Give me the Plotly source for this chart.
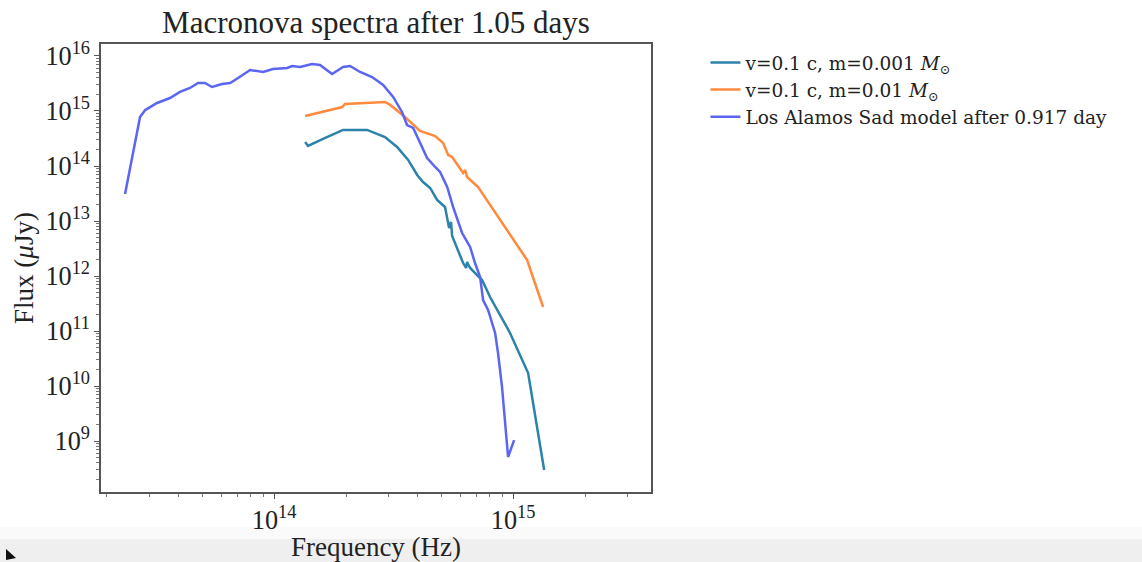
import plotly.graph_objects as go

# ---- data ----
freq_m001 = [1.349e14, 1.387e14, 1.603e14, 1.944e14, 2.45e14, 2.91e14, 3.27e14, 3.64e14,
             3.97e14, 4.20e14, 4.50e14, 4.81e14, 5.19e14, 5.40e14, 5.50e14, 5.56e14,
             6.18e14, 6.36e14, 6.42e14, 6.61e14, 7.07e14, 7.42e14, 8.01e14, 9.71e14,
             1.156e15, 1.349e15]
flux_m001 = [2.73e14, 2.31e14, 3.10e14, 4.52e14, 4.52e14, 3.37e14, 2.22e14, 1.29e14,
             6.86e13, 5.12e13, 3.98e13, 2.41e13, 1.80e13, 7.46e12, 9.59e12, 5.34e12,
             1.72e12, 1.40e12, 1.80e12, 1.40e12, 1.04e12, 8.45e11, 4.15e11, 9.20e10,
             1.72e10, 2.97e8]

freq_m01 = [1.349e14, 1.93e14, 1.98e14, 2.91e14, 3.06e14, 3.53e14, 4.08e14, 4.72e14,
            5.10e14, 5.35e14, 5.56e14, 6.18e14, 6.30e14, 6.42e14, 7.14e14, 1.145e15,
            1.335e15]
flux_m01 = [8.11e14, 1.18e15, 1.34e15, 1.46e15, 1.29e15, 7.78e14, 4.33e14, 3.51e14,
            2.62e14, 1.585e14, 1.46e14, 7.46e13, 8.45e13, 6.31e13, 4.15e13, 1.95e12,
            2.73e11]

freq_lanl = [2.38e13, 2.75e13, 2.89e13, 3.24e13, 3.67e13, 4.04e13, 4.45e13, 4.81e13,
             5.14e13, 5.50e13, 6.06e13, 6.55e13, 7.07e13, 7.94e13, 9.00e13, 9.90e13,
             1.134e14, 1.19e14, 1.285e14, 1.442e14, 1.557e14, 1.749e14, 1.944e14, 2.08e14,
             2.29e14, 2.57e14, 2.86e14, 3.15e14, 3.43e14, 3.60e14, 3.82e14, 4.08e14,
             4.37e14, 4.72e14, 4.95e14, 5.30e14, 5.61e14, 6.12e14, 6.61e14, 6.93e14,
             7.28e14, 7.49e14, 7.86e14, 8.41e14, 8.65e14, 8.99e14, 9.26e14, 9.53e14,
             1.01e15]
flux_lanl = [3.10e13, 7.78e14, 1.04e15, 1.40e15, 1.72e15, 2.22e15, 2.62e15, 3.23e15,
             3.23e15, 2.73e15, 3.10e15, 3.23e15, 3.98e15, 5.56e15, 5.12e15, 5.80e15,
             6.05e15, 6.58e15, 6.31e15, 7.16e15, 6.86e15, 4.71e15, 6.31e15, 6.58e15,
             5.12e15, 4.15e15, 2.97e15, 1.80e15, 9.59e14, 5.56e14, 4.91e14, 2.62e14,
             1.40e14, 9.59e13, 7.78e13, 4.15e13, 1.80e13, 6.05e12, 3.37e12, 1.72e12,
             9.59e11, 3.66e11, 2.41e11, 9.20e10, 3.98e10, 9.59e9, 1.80e9, 5.12e8,
             1.04e9]

series_names = [
    "v=0.1 c, m=0.001 <i>M</i><sub>⊙</sub>",
    "v=0.1 c, m=0.01 <i>M</i><sub>⊙</sub>",
    "Los Alamos Sad model after 0.917 day",
]
title_text = "Macronova spectra after 1.05 days"
x_title = "Frequency (Hz)"
y_title = "Flux (<i>μ</i>Jy)"

colors = ["#2b82ab", "#ff8a3d", "#5a66f2"]
FONT = "Liberation Serif, Times New Roman, serif"
WIDE = "DejaVu Serif, serif"

fig = go.Figure()
for xs, ys, nm, c in zip([freq_m001, freq_m01, freq_lanl],
                         [flux_m001, flux_m01, flux_lanl],
                         series_names, colors):
    fig.add_trace(go.Scatter(x=xs, y=ys, mode="lines", name=nm,
                             line=dict(color=c, width=2.5)))

axis_common = dict(
    type="log", showgrid=False, zeroline=False,
    showline=True, linecolor="#555", linewidth=1.5, mirror=True,
    ticks="outside", ticklen=5, tickwidth=1, tickcolor="#555",
    exponentformat="power", dtick=1,
    tickfont=dict(size=21, color="#222", family=FONT),
    minor=dict(ticks="outside", ticklen=3, tickwidth=1, tickcolor="#777", showgrid=False),
)

fig.update_xaxes(range=[13.276, 15.577], title=dict(text=x_title, standoff=4,
                 font=dict(size=27, color="#222", family=FONT)), **axis_common)
fig.update_yaxes(range=[8.073, 16.218], title=dict(text=y_title, standoff=4,
                 font=dict(size=27, color="#222", family=FONT)), **axis_common)

fig.update_layout(
    width=1142, height=562,
    margin=dict(l=101, r=491, t=44, b=70, autoexpand=False),
    paper_bgcolor="white", plot_bgcolor="white",
    font=dict(family=FONT, color="#222"),
    title=dict(text=title_text, x=376 / 1142, xanchor="center",
               y=1 - 22 / 562, yanchor="middle",
               font=dict(size=31, color="#222", family=FONT)),
    showlegend=True,
    legend=dict(x=1.099, y=1.0, xanchor="left", yanchor="top",
                font=dict(size=18.5, color="#222", family=WIDE),
                bgcolor="rgba(0,0,0,0)", tracegroupgap=0),
    shapes=[
        dict(type="rect", xref="paper", yref="paper", x0=-0.2, x1=1.9,
             y0=-0.16, y1=-0.078, fillcolor="#fafafa", line=dict(width=0), layer="below"),
        dict(type="rect", xref="paper", yref="paper", x0=-0.2, x1=1.9,
             y0=-0.16, y1=-0.105, fillcolor="#efefef", line=dict(width=0), layer="below"),
        dict(type="path", xref="paper", yref="paper",
             path="M -0.1727,-0.1272 L -0.1727,-0.1518 L -0.1545,-0.1473 Z",
             fillcolor="#111", line=dict(width=0)),
    ],
)

fig.write_html("out.html")
